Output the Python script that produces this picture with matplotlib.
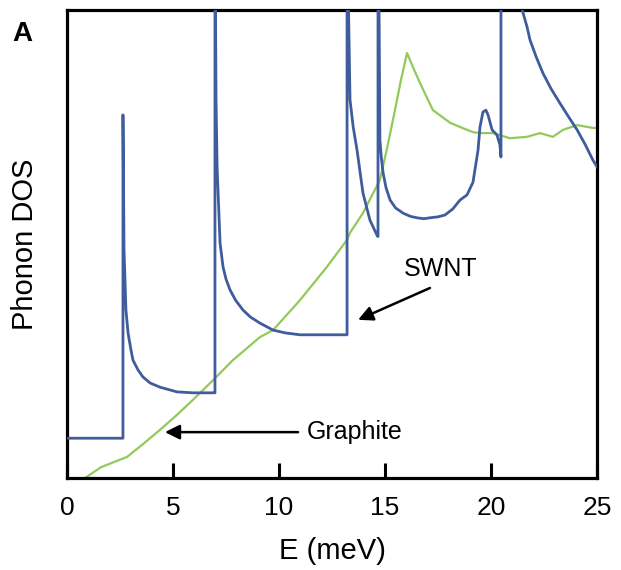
import matplotlib
matplotlib.use("Agg")
import matplotlib.pyplot as plt

plt.rcParams['font.family'] = ['Liberation Sans', 'DejaVu Sans']

# SWNT phonon DOS (arbitrary units, 0-100 visible range)
swnt_E = [0.0, 2.64, 2.64, 2.69, 2.78, 2.88, 3.00, 3.11, 3.35, 3.58, 3.92, 4.39, 5.19, 5.94, 6.93,
          6.98, 6.98, 7.03, 7.08, 7.22, 7.36, 7.50, 7.69, 7.95, 8.30, 8.65, 9.10, 9.72, 10.3, 10.99, 13.21,
          13.21, 13.28, 13.35, 13.50, 13.68, 13.96, 14.29, 14.62, 14.67,
          14.67, 14.72, 14.76, 14.83, 14.91, 15.05, 15.24, 15.50, 15.85, 16.20, 16.51, 16.83, 17.12,
          17.50, 17.83, 18.20, 18.54, 18.87, 19.15,
          19.39, 19.48, 19.62, 19.76, 19.86, 20.05, 20.28, 20.42, 20.47,
          20.47, 20.8, 21.2, 21.51, 21.70, 21.84, 22.13, 22.45, 22.83, 23.25, 23.67, 24.06, 24.45,
          24.81, 25.0]
swnt_D = [8.5, 8.5, 77.6, 48.7, 35.9, 31.0, 27.8, 25.2, 23.1, 21.6, 20.3, 19.4, 18.4, 18.2, 18.2,
          18.2, 120, 80.8, 66.5, 50.2, 45.1, 42.5, 40.2, 38.0, 35.9, 34.4, 33.1, 31.6, 31.0, 30.6, 30.6,
          120, 100, 80.8, 75.0, 70.1, 60.9, 55.1, 51.9, 51.6,
          120, 100, 72.2, 68.3, 65.2, 62.0, 59.4, 57.7, 56.6, 55.9, 55.6, 55.4, 55.6,
          55.8, 56.2, 57.5, 59.4, 60.5, 63.2,
          70.1, 75.0, 78.2, 78.6, 77.6, 74.4, 73.3, 71.2, 68.6,
          125, 115, 106, 99.4, 96.4, 93.6, 90.0, 86.5, 83.2, 80.1, 77.1, 74.4, 71.2,
          67.9, 66.5]

# Graphite phonon DOS
graph_E = [0.85, 1.60, 2.83, 3.60, 4.39, 5.19, 5.94, 6.89, 7.83, 9.10, 9.72, 10.99, 12.26, 13.21,
           13.35, 13.96, 14.76, 15.10, 15.47, 15.75, 16.04, 16.30, 16.65, 17.26, 18.07, 18.54,
           19.15, 19.48, 20.09, 20.90, 21.70, 22.31, 22.92, 23.40, 24.06, 24.81, 25.0]
graph_D = [0.0, 2.3, 4.5, 7.3, 10.3, 13.5, 16.7, 20.9, 25.2, 30.1, 31.6, 38.0, 45.1, 50.9,
           52.4, 56.6, 63.7, 70.5, 78.6, 85.0, 90.8, 88.0, 84.4, 78.6, 75.9, 75.0,
           73.9, 73.7, 73.7, 72.6, 72.9, 73.7, 72.9, 74.4, 75.4, 74.8, 74.8]

xticks = [0, 5, 10, 15, 20, 25]

fig = plt.figure(figsize=(6.21, 5.70), dpi=100)
ax = fig.add_axes([67/621, 1-478/570, (597-67)/621, (478-10)/570])

ax.plot(graph_E, graph_D, color='#93c95b', lw=1.6, zorder=2)
ax.plot(swnt_E, swnt_D, color='#3f5d9c', lw=2.0, zorder=3)

ax.set_xlim(0, 25)
ax.set_ylim(0, 100)
ax.set_xticks(xticks)
ax.set_xticklabels([str(t) for t in xticks])
ax.set_yticks([])
ax.tick_params(axis='x', direction='in', length=11, width=2.2, labelsize=19, pad=13)
for s in ax.spines.values():
    s.set_linewidth(2.3)

ax.set_xlabel('E (meV)', fontsize=21, labelpad=12)
ax.set_ylabel('Phonon DOS', fontsize=21, labelpad=20)

ax.annotate('', xy=(13.73, 33.8), xytext=(17.12, 40.6),
            arrowprops=dict(arrowstyle='-|>', color='black', lw=1.8, mutation_scale=22,
                            shrinkA=0, shrinkB=0))
ax.text(17.64, 44.7, 'SWNT', fontsize=18, ha='center', va='center')

ax.annotate('', xy=(4.62, 9.8), xytext=(10.9, 9.8),
            arrowprops=dict(arrowstyle='-|>', color='black', lw=1.8, mutation_scale=22,
                            shrinkA=0, shrinkB=0))
ax.text(13.58, 9.8, 'Graphite', fontsize=18, ha='center', va='center')

fig.text(22/621, 1-34/570, 'A', fontsize=20, fontweight='bold', ha='center', va='center')

fig.savefig('out.png', dpi=100)
